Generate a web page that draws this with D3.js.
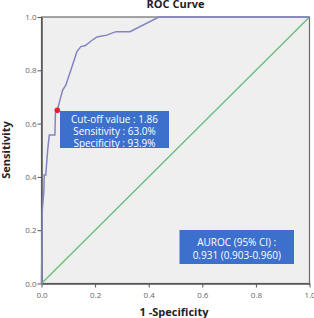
<!DOCTYPE html>
<html>
<head>
<meta charset="utf-8">
<script src="https://cdn.jsdelivr.net/npm/d3@7"></script>
<style>
  body { margin: 0; background: #fff; }
  svg { display: block; font-family: "Open Sans", "Noto Sans", sans-serif; }
</style>
</head>
<body>
<svg id="chart" width="314" height="318"></svg>
<script>
// ROC curve points (1-specificity, sensitivity)
var fpr = [0, 0.003, 0.009, 0.010, 0.016, 0.023, 0.029, 0.050, 0.052, 0.059, 0.069, 0.079, 0.091, 0.127, 0.132, 0.147, 0.164, 0.185, 0.207, 0.243, 0.278, 0.330, 0.438, 1.0];
var tpr = [0, 0.276, 0.35, 0.407, 0.407, 0.50, 0.557, 0.557, 0.640, 0.650, 0.689, 0.726, 0.745, 0.854, 0.870, 0.889, 0.893, 0.910, 0.925, 0.932, 0.945, 0.945, 1.0, 1.0];
var cutoff = [0.059, 0.650];
var ticks = [0, 0.2, 0.4, 0.6, 0.8, 1.0];
var cutoffLines = ['Cut-off value : 1.86', 'Sensitivity : 63.0%', 'Specificity : 93.9%'];
var aurocLines = ['AUROC (95% CI) :', '0.931 (0.903-0.960)'];

var svg = d3.select('#chart');
var x = d3.scaleLinear().domain([0, 1]).range([41.5, 309.5]);
var y = d3.scaleLinear().domain([0, 1]).range([283.5, 17]);

svg.append('rect')
    .attr('x', x(0)).attr('y', y(1))
    .attr('width', x(1) - x(0)).attr('height', y(0) - y(1))
    .style('fill', '#efefef')
    .style('stroke', '#6a6a6a')
    .style('stroke-width', 1.2);

var xAxis = svg.append('g')
    .attr('transform', 'translate(0,' + y(0) + ')')
    .call(d3.axisBottom(x).tickValues(ticks).tickFormat(d3.format('.1f')).tickSize(4).tickSizeOuter(0));
var yAxis = svg.append('g')
    .attr('transform', 'translate(' + x(0) + ',0)')
    .call(d3.axisLeft(y).tickValues(ticks).tickFormat(d3.format('.1f')).tickSize(4).tickSizeOuter(0));
[xAxis, yAxis].forEach(function(g) {
    g.select('.domain').style('stroke', '#555').style('stroke-width', 1.5);
    g.selectAll('.tick line').style('stroke', '#555');
    g.selectAll('.tick text').style('fill', '#666').style('font-size', '8px')
        .style('font-family', '"Open Sans", sans-serif');
});
xAxis.selectAll('.tick text').attr('dy', '0.9em');
yAxis.selectAll('.tick text').attr('x', -5);

// diagonal reference line
svg.append('line')
    .attr('x1', x(0)).attr('y1', y(0))
    .attr('x2', x(1)).attr('y2', y(1))
    .style('stroke', '#6cbf7c')
    .style('stroke-width', 1.4);

// ROC curve
var pts = fpr.map(function(d, i) { return [d, tpr[i]]; });
svg.append('path')
    .datum(pts)
    .attr('d', d3.line().x(function(d) { return x(d[0]); }).y(function(d) { return y(d[1]); }))
    .style('fill', 'none')
    .style('stroke', '#8383c4')
    .style('stroke-width', 1.5);

svg.append('circle')
    .attr('cx', x(cutoff[0])).attr('cy', y(cutoff[1]))
    .attr('r', 2.8)
    .style('fill', '#e8202a');

function box(x0, y0, w, h, lines, cy0, lh) {
    svg.append('rect')
        .attr('x', x0).attr('y', y0).attr('width', w).attr('height', h)
        .style('fill', '#3d6fcc');
    svg.selectAll(null)
        .data(lines)
        .enter()
        .append('text')
        .attr('x', x0 + w / 2)
        .attr('y', function(d, i) { return cy0 + i * lh; })
        .attr('text-anchor', 'middle')
        .attr('dominant-baseline', 'central')
        .style('fill', '#fff')
        .style('font-size', '10px')
        .text(function(d) { return d; });
}
box(60, 111, 109, 37, cutoffLines, 118.5, 12.2);
box(179.5, 230, 114.5, 34, aurocLines, 241.8, 13.2);

svg.append('text')
    .attr('x', 175.5).attr('y', 8)
    .attr('text-anchor', 'middle')
    .style('font-weight', 'bold').style('font-size', '11px').style('fill', '#222')
    .text('ROC Curve');
svg.append('text')
    .attr('x', 174).attr('y', 316)
    .attr('text-anchor', 'middle')
    .style('font-weight', 'bold').style('font-size', '11px').style('fill', '#222')
    .text('1 -Specificity');
svg.append('text')
    .attr('transform', 'translate(10,150) rotate(-90)')
    .attr('text-anchor', 'middle')
    .style('font-weight', 'bold').style('font-size', '11px').style('fill', '#222')
    .text('Sensitivity');
</script>
</body>
</html>
